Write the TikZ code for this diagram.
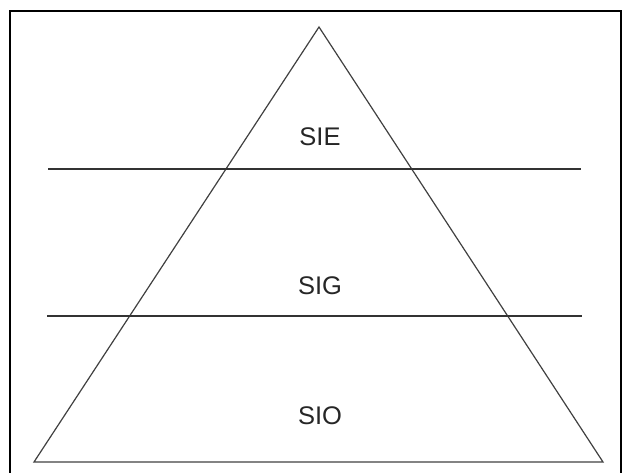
\documentclass[tikz,border=0pt]{standalone}
\usepackage{fontspec}
\setmainfont{Liberation Sans}
\usetikzlibrary{positioning}

\begin{document}
\begin{tikzpicture}[
    x=1pt, y=-1pt,
    frame/.style={draw=black, line width=2.6pt},
    edge/.style={draw=black!75, line width=1.2pt, line join=miter},
    level/.style={draw=black!80, line width=1.1pt},
    tier/.style={font=\fontsize{25.5}{30}\selectfont, text=black!85, inner sep=0pt}
]
\useasboundingbox (0,0) rectangle (627,473);

% Outer frame (bottom edge lies below the page)
\draw[frame] (10,480) -- (10,11) -- (621,11) -- (621,480);

% Pyramid corners
\coordinate (apex) at (319,27);
\coordinate (bl) at (34,462);
\coordinate (br) at (603,462);
\draw[edge] (apex) -- (br) -- (bl) -- cycle;

% Dividing lines
\coordinate (l1a) at (48,169);
\coordinate (l1b) at (581,169);
\coordinate (l2a) at (47,316);
\coordinate (l2b) at (582,316);
\draw[level] (l1a) -- (l1b);
\draw[level] (l2a) -- (l2b);

% Tier labels
\node[tier] (sie) at (320,137) {SIE};
\node[tier] (sig) at (320,286) {SIG};
\node[tier] (sio) at (320,416) {SIO};

\end{tikzpicture}
\end{document}
